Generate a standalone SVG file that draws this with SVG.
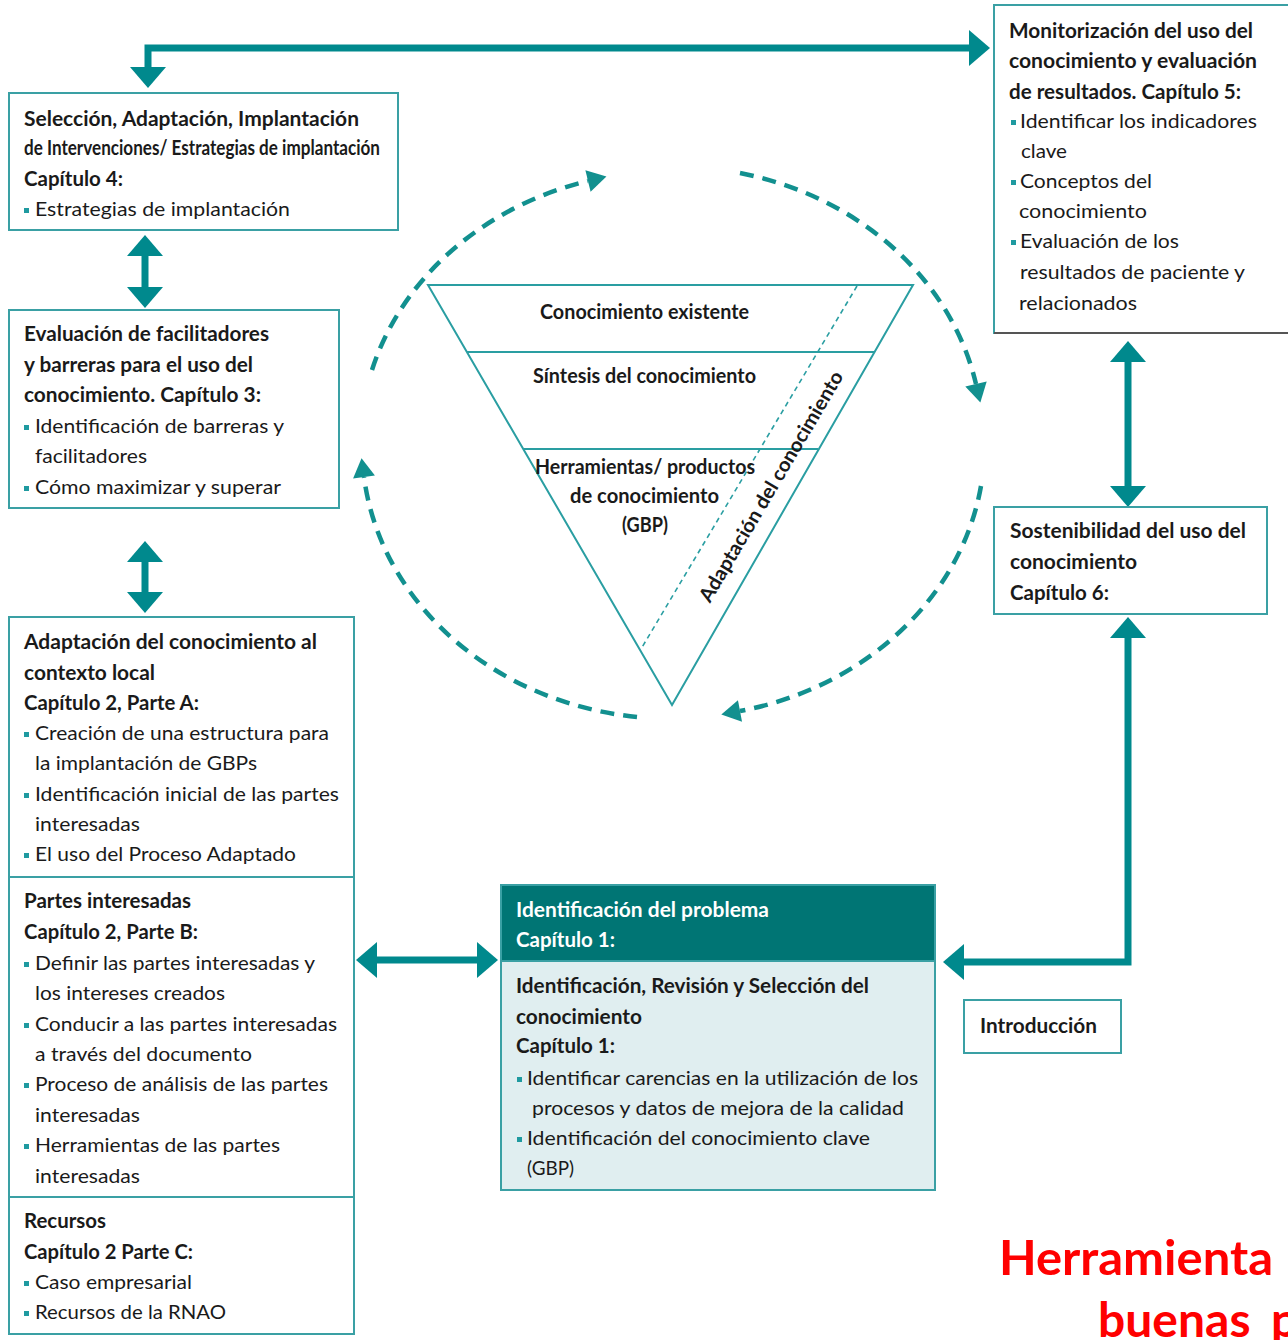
<svg xmlns="http://www.w3.org/2000/svg" width="1288" height="1340" viewBox="0 0 1288 1340">
<defs>
<style>
.t{font-family:Lato,"Open Sans","Liberation Sans",sans-serif;font-size:20px;fill:#1a1a1a}
.b{font-weight:700}
.w{fill:#ffffff}
.box{fill:#ffffff;stroke:#3aa0a4;stroke-width:2}
.bul{fill:#1f9aa0}
.arr{fill:none;stroke:#00898d;stroke-width:7;marker-start:url(#ah);marker-end:url(#ah)}
.dash{fill:none;stroke:#12908f;stroke-width:4.5;stroke-dasharray:14 9;marker-end:url(#dh)}
.tri{fill:none;stroke:#2a9ea2;stroke-width:2}
.red{font-family:Lato,"Open Sans","Liberation Sans",sans-serif;font-weight:700;font-size:48px;fill:#ff0000}
</style>
<marker id="ah" markerUnits="userSpaceOnUse" orient="auto-start-reverse" refX="0" refY="0" markerWidth="22" markerHeight="36" overflow="visible">
<path d="M0,-18 L21,0 L0,18 z" fill="#00898d"/>
</marker>
<marker id="dh" markerUnits="userSpaceOnUse" orient="auto" refX="0" refY="0" markerWidth="20" markerHeight="24" overflow="visible">
<path d="M0,-11 L19,0 L0,11 z" fill="#12908f"/>
</marker>
</defs>
<rect width="1288" height="1340" fill="#ffffff"/>

<g id="connectors">
<path class="arr" d="M148,67 V48 H969"/>
<path class="arr" d="M145,256 V287"/>
<path class="arr" d="M145,562 V592"/>
<path class="arr" d="M377,960 H477"/>
<path class="arr" d="M1128,362 V486"/>
<path class="arr" d="M964,962 H1128 V638"/>
<path class="dash" d="M372,370 A310 273 0 0 1 588,181"/>
<path class="dash" d="M740,173 A310 273 0 0 1 976,384"/>
<path class="dash" d="M981,486 A310 273 0 0 1 740,711"/>
<path class="dash" d="M637,717 A310 273 0 0 1 364,477"/>
</g>

<g id="node-seleccion">
<rect class="box" x="9" y="93" width="389" height="137"/>
<text class="t b" x="24" y="126" textLength="335" lengthAdjust="spacingAndGlyphs">Selección, Adaptación, Implantación</text>
<text class="t b" x="24" y="155" textLength="356" lengthAdjust="spacingAndGlyphs">de Intervenciones/  Estrategias de implantación</text>
<text class="t b" x="24" y="186" textLength="99" lengthAdjust="spacingAndGlyphs">Capítulo 4:</text>
<rect class="bul" x="24" y="208" width="5" height="5"/>
<text class="t" x="35" y="216" textLength="255" lengthAdjust="spacingAndGlyphs">Estrategias de implantación</text>
</g>

<g id="node-evaluacion">
<rect class="box" x="9" y="310" width="330" height="198"/>
<text class="t b" x="24" y="341" textLength="245" lengthAdjust="spacingAndGlyphs">Evaluación de facilitadores</text>
<text class="t b" x="24" y="372" textLength="229" lengthAdjust="spacingAndGlyphs">y barreras para el uso del</text>
<text class="t b" x="24" y="402" textLength="237" lengthAdjust="spacingAndGlyphs">conocimiento. Capítulo 3:</text>
<rect class="bul" x="24" y="425" width="5" height="5"/>
<text class="t" x="35" y="433" textLength="249" lengthAdjust="spacingAndGlyphs">Identificación de barreras y</text>
<text class="t" x="35" y="463" textLength="112" lengthAdjust="spacingAndGlyphs">facilitadores</text>
<rect class="bul" x="24" y="486" width="5" height="5"/>
<text class="t" x="35" y="494" textLength="246" lengthAdjust="spacingAndGlyphs">Cómo maximizar y superar</text>
</g>

<g id="node-adaptacion">
<rect class="box" x="9" y="617" width="345" height="717"/>
<line x1="9" y1="877" x2="354" y2="877" stroke="#3aa0a4" stroke-width="2"/>
<line x1="9" y1="1197" x2="354" y2="1197" stroke="#3aa0a4" stroke-width="2"/>
<text class="t b" x="24" y="649" textLength="293" lengthAdjust="spacingAndGlyphs">Adaptación del conocimiento al</text>
<text class="t b" x="24" y="680" textLength="131" lengthAdjust="spacingAndGlyphs">contexto local</text>
<text class="t b" x="24" y="710" textLength="175" lengthAdjust="spacingAndGlyphs">Capítulo 2, Parte A:</text>
<rect class="bul" x="24" y="732" width="5" height="5"/>
<text class="t" x="35" y="740" textLength="294" lengthAdjust="spacingAndGlyphs">Creación de una estructura para</text>
<text class="t" x="35" y="770" textLength="222" lengthAdjust="spacingAndGlyphs">la implantación de GBPs</text>
<rect class="bul" x="24" y="793" width="5" height="5"/>
<text class="t" x="35" y="801" textLength="304" lengthAdjust="spacingAndGlyphs">Identificación inicial de las partes</text>
<text class="t" x="35" y="831" textLength="105" lengthAdjust="spacingAndGlyphs">interesadas</text>
<rect class="bul" x="24" y="853" width="5" height="5"/>
<text class="t" x="35" y="861" textLength="261" lengthAdjust="spacingAndGlyphs">El uso del Proceso Adaptado</text>
</g>

<g id="node-partes">
<text class="t b" x="24" y="908" textLength="167" lengthAdjust="spacingAndGlyphs">Partes interesadas</text>
<text class="t b" x="24" y="939" textLength="174" lengthAdjust="spacingAndGlyphs">Capítulo 2, Parte B:</text>
<rect class="bul" x="24" y="962" width="5" height="5"/>
<text class="t" x="35" y="970" textLength="280" lengthAdjust="spacingAndGlyphs">Definir las partes interesadas y</text>
<text class="t" x="35" y="1000" textLength="190" lengthAdjust="spacingAndGlyphs">los intereses creados</text>
<rect class="bul" x="24" y="1023" width="5" height="5"/>
<text class="t" x="35" y="1031" textLength="302" lengthAdjust="spacingAndGlyphs">Conducir a las partes interesadas</text>
<text class="t" x="35" y="1061" textLength="217" lengthAdjust="spacingAndGlyphs">a través del documento</text>
<rect class="bul" x="24" y="1083" width="5" height="5"/>
<text class="t" x="35" y="1091" textLength="293" lengthAdjust="spacingAndGlyphs">Proceso de análisis de las partes</text>
<text class="t" x="35" y="1122" textLength="105" lengthAdjust="spacingAndGlyphs">interesadas</text>
<rect class="bul" x="24" y="1144" width="5" height="5"/>
<text class="t" x="35" y="1152" textLength="245" lengthAdjust="spacingAndGlyphs">Herramientas de las partes</text>
<text class="t" x="35" y="1183" textLength="105" lengthAdjust="spacingAndGlyphs">interesadas</text>
</g>

<g id="node-recursos">
<text class="t b" x="24" y="1228" textLength="82" lengthAdjust="spacingAndGlyphs">Recursos</text>
<text class="t b" x="24" y="1259" textLength="169" lengthAdjust="spacingAndGlyphs">Capítulo 2 Parte C:</text>
<rect class="bul" x="24" y="1281" width="5" height="5"/>
<text class="t" x="35" y="1289" textLength="157" lengthAdjust="spacingAndGlyphs">Caso empresarial</text>
<rect class="bul" x="24" y="1311" width="5" height="5"/>
<text class="t" x="35" y="1319" textLength="191" lengthAdjust="spacingAndGlyphs">Recursos de la RNAO</text>
</g>

<g id="node-monitorizacion">
<rect class="box" x="994" y="5" width="300" height="328"/>
<line x1="994" y1="333" x2="1288" y2="333" stroke="#555555" stroke-width="2"/>
<text class="t b" x="1009" y="38" textLength="244" lengthAdjust="spacingAndGlyphs">Monitorización del uso del</text>
<text class="t b" x="1009" y="68" textLength="248" lengthAdjust="spacingAndGlyphs">conocimiento y evaluación</text>
<text class="t b" x="1009" y="99" textLength="232" lengthAdjust="spacingAndGlyphs">de resultados. Capítulo 5:</text>
<rect class="bul" x="1011" y="120" width="5" height="5"/>
<text class="t" x="1020" y="128" textLength="237" lengthAdjust="spacingAndGlyphs">Identificar los indicadores</text>
<text class="t" x="1021" y="158" textLength="46" lengthAdjust="spacingAndGlyphs">clave</text>
<rect class="bul" x="1011" y="180" width="5" height="5"/>
<text class="t" x="1020" y="188" textLength="132" lengthAdjust="spacingAndGlyphs">Conceptos del</text>
<text class="t" x="1019" y="218" textLength="128" lengthAdjust="spacingAndGlyphs">conocimiento</text>
<rect class="bul" x="1011" y="240" width="5" height="5"/>
<text class="t" x="1020" y="248" textLength="159" lengthAdjust="spacingAndGlyphs">Evaluación de los</text>
<text class="t" x="1020" y="279" textLength="225" lengthAdjust="spacingAndGlyphs">resultados de paciente y</text>
<text class="t" x="1019" y="310" textLength="118" lengthAdjust="spacingAndGlyphs">relacionados</text>
</g>

<g id="node-sostenibilidad">
<rect class="box" x="994" y="507" width="273" height="107"/>
<text class="t b" x="1010" y="538" textLength="236" lengthAdjust="spacingAndGlyphs">Sostenibilidad del uso del</text>
<text class="t b" x="1010" y="569" textLength="127" lengthAdjust="spacingAndGlyphs">conocimiento</text>
<text class="t b" x="1010" y="600" textLength="99" lengthAdjust="spacingAndGlyphs">Capítulo 6:</text>
</g>

<g id="node-problema">
<rect x="501" y="885" width="434" height="305" fill="#e0eef0" stroke="#3aa0a4" stroke-width="2"/>
<rect x="501" y="885" width="434" height="76" fill="#007574" stroke="#3aa0a4" stroke-width="2"/>
<text class="t b w" x="516" y="917" textLength="253" lengthAdjust="spacingAndGlyphs">Identificación del problema</text>
<text class="t b w" x="516" y="947" textLength="99" lengthAdjust="spacingAndGlyphs">Capítulo 1:</text>
<text class="t b" x="516" y="993" textLength="353" lengthAdjust="spacingAndGlyphs">Identificación, Revisión y Selección del</text>
<text class="t b" x="516" y="1024" textLength="126" lengthAdjust="spacingAndGlyphs">conocimiento</text>
<text class="t b" x="516" y="1053" textLength="99" lengthAdjust="spacingAndGlyphs">Capítulo 1:</text>
<rect class="bul" x="517" y="1077" width="5" height="5"/>
<text class="t" x="527" y="1085" textLength="391" lengthAdjust="spacingAndGlyphs">Identificar carencias en la utilización de los</text>
<text class="t" x="532" y="1115" textLength="372" lengthAdjust="spacingAndGlyphs">procesos y datos de mejora de la calidad</text>
<rect class="bul" x="517" y="1137" width="5" height="5"/>
<text class="t" x="527" y="1145" textLength="343" lengthAdjust="spacingAndGlyphs">Identificación del conocimiento clave</text>
<text class="t" x="527" y="1175" textLength="47" lengthAdjust="spacingAndGlyphs">(GBP)</text>
</g>

<g id="node-introduccion">
<rect class="box" x="964" y="1000" width="157" height="53"/>
<text class="t b" x="980" y="1033" textLength="117" lengthAdjust="spacingAndGlyphs">Introducción</text>
</g>

<g id="node-triangulo">
<path class="tri" d="M428,285 H913 L672,705 Z"/>
<line class="tri" x1="467" y1="352" x2="874" y2="352"/>
<line class="tri" x1="524" y1="449" x2="818" y2="449"/>
<line x1="857" y1="286" x2="641" y2="649" stroke="#2a9ea2" stroke-width="1.6" stroke-dasharray="5 4"/>
<text class="t b" x="540" y="319" textLength="209" lengthAdjust="spacingAndGlyphs">Conocimiento existente</text>
<text class="t b" x="533" y="383" textLength="223" lengthAdjust="spacingAndGlyphs">Síntesis del conocimiento</text>
<text class="t b" x="535" y="474" textLength="220" lengthAdjust="spacingAndGlyphs">Herramientas/ productos</text>
<text class="t b" x="570" y="503" textLength="149" lengthAdjust="spacingAndGlyphs">de conocimiento</text>
<text class="t b" x="622" y="532" textLength="46" lengthAdjust="spacingAndGlyphs">(GBP)</text>
<text class="t b" x="777" y="490" text-anchor="middle" transform="rotate(-59.5 777 490)" textLength="264" lengthAdjust="spacingAndGlyphs">Adaptación del conocimiento</text>
</g>

<g id="titulo">
<text class="red" x="999" y="1275" textLength="274" lengthAdjust="spacingAndGlyphs">Herramienta</text>
<text class="red" x="1098" y="1337">buenas <tspan x="1271">p</tspan></text>
</g>
</svg>
